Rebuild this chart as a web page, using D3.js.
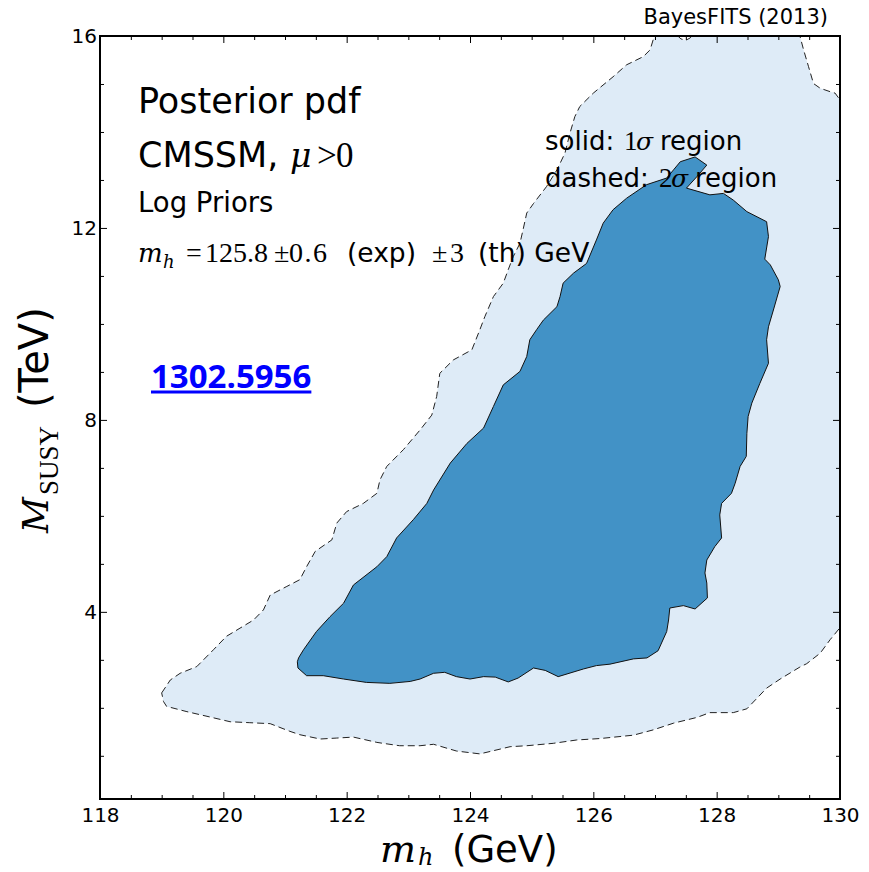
<!DOCTYPE html>
<html>
<head>
<meta charset="utf-8">
<script src="https://cdn.jsdelivr.net/npm/d3@7"></script>
<style>
  body { margin: 0; background: #fff; }
  svg { display: block; }
</style>
</head>
<body>
<svg id="chart" width="869" height="872"></svg>
<script>
// Axis ranges and ticks
const mhDomain = [118, 130];
const msusyDomain = [0.1, 16];
const mhMajorTicks = [118, 120, 122, 124, 126, 128, 130];
const mhMinorTicks = [118.5, 119, 119.5, 120.5, 121, 121.5, 122.5, 123, 123.5, 124.5, 125, 125.5, 126.5, 127, 127.5, 128.5, 129, 129.5];
const msusyMajorTicks = [4, 8, 12, 16];
const msusyMinorTicks = [1, 2, 3, 5, 6, 7, 9, 10, 11, 13, 14, 15];

// 2 sigma credible region boundary: [m_h (GeV), M_SUSY (TeV)]
const region2sigma = [
  [119.00, 2.31], [119.14, 2.58], [119.30, 2.72], [119.57, 2.86], [119.84, 3.21], [120.05, 3.49],
  [120.27, 3.66], [120.49, 3.83], [120.65, 4.04], [120.76, 4.35], [121.03, 4.53], [121.24, 4.67],
  [121.35, 4.94], [121.49, 5.26], [121.76, 5.50], [121.84, 5.85], [122.00, 6.09], [122.27, 6.26],
  [122.49, 6.47], [122.54, 6.75], [122.65, 7.03], [122.92, 7.38], [123.19, 7.79], [123.38, 8.10],
  [123.46, 8.49], [123.51, 8.97], [123.73, 9.25], [124.03, 9.46], [124.16, 9.88], [124.24, 10.15],
  [124.38, 10.57], [124.54, 10.85], [124.62, 11.13], [124.70, 11.40], [124.81, 11.68], [124.86, 11.96],
  [124.92, 12.31], [125.03, 12.51], [125.24, 12.86], [125.41, 13.21], [125.54, 13.56], [125.62, 13.97],
  [125.70, 14.32], [125.78, 14.53], [126.00, 14.81], [126.32, 15.15], [126.54, 15.40], [126.81, 15.57],
  [126.92, 15.71], [126.97, 15.92], [127.00, 16.00],
  [127.37, 16.00], [127.42, 15.94], [127.50, 15.91], [127.57, 15.96], [127.60, 16.00],
  [129.35, 16.00], [129.41, 15.71], [129.49, 15.36], [129.57, 15.01], [129.68, 14.91], [129.84, 14.84],
  [129.92, 14.81], [130.00, 14.67],
  [130.00, 3.67], [129.84, 3.42], [129.68, 3.14], [129.46, 2.92], [129.35, 2.85], [129.03, 2.60],
  [128.81, 2.41], [128.49, 1.98], [128.27, 1.90], [127.89, 1.90], [127.68, 1.80], [127.30, 1.68],
  [126.97, 1.54], [126.65, 1.43], [126.11, 1.36], [125.73, 1.33], [125.35, 1.26], [124.92, 1.21],
  [124.65, 1.19], [124.49, 1.14], [124.16, 1.04], [123.78, 1.10], [123.41, 1.24], [123.19, 1.21],
  [122.86, 1.21], [122.59, 1.26], [122.49, 1.28], [122.11, 1.39], [121.84, 1.37], [121.57, 1.35],
  [121.24, 1.44], [121.08, 1.51], [120.76, 1.67], [120.43, 1.69], [120.11, 1.71], [119.78, 1.81],
  [119.41, 1.92], [119.08, 2.03], [119.03, 2.13]
];

// 1 sigma credible region boundary: [m_h (GeV), M_SUSY (TeV)]
const region1sigma = [
  [127.65, 13.48], [127.84, 13.31], [127.68, 13.07], [127.51, 12.83], [127.89, 12.69], [128.11, 12.72],
  [128.27, 12.58], [128.49, 12.34], [128.81, 12.13], [128.84, 11.82], [128.78, 11.35], [128.87, 11.23],
  [129.00, 10.92], [129.03, 10.78], [128.92, 10.29], [128.84, 9.94], [128.81, 9.67], [128.84, 9.18],
  [128.70, 8.76], [128.57, 8.35], [128.51, 8.07], [128.49, 7.72], [128.48, 7.24], [128.38, 7.03],
  [128.30, 6.68], [128.24, 6.47], [128.08, 6.26], [128.05, 6.02], [128.08, 5.54], [127.97, 5.36],
  [127.84, 5.08], [127.81, 4.81], [127.84, 4.60], [127.85, 4.29], [127.65, 4.06], [127.46, 4.13],
  [127.24, 4.08], [127.22, 3.83], [127.19, 3.59], [127.05, 3.19], [126.87, 3.04], [126.65, 3.02],
  [126.27, 2.91], [126.05, 2.88], [125.84, 2.81], [125.43, 2.65], [125.22, 2.78], [125.03, 2.83],
  [124.78, 2.62], [124.62, 2.54], [124.41, 2.64], [124.22, 2.65], [124.00, 2.60], [123.78, 2.65],
  [123.59, 2.74], [123.41, 2.72], [123.19, 2.60], [123.03, 2.55], [122.70, 2.51], [122.32, 2.53],
  [121.95, 2.60], [121.62, 2.67], [121.35, 2.67], [121.21, 2.83], [121.20, 2.96], [121.22, 3.04],
  [121.30, 3.21], [121.51, 3.59], [121.73, 3.90], [121.95, 4.18], [122.11, 4.56], [122.49, 4.94],
  [122.65, 5.15], [122.81, 5.54], [123.08, 5.92], [123.30, 6.26], [123.41, 6.54], [123.68, 7.10],
  [123.95, 7.51], [124.22, 7.83], [124.38, 8.28], [124.54, 8.73], [124.81, 9.01], [124.92, 9.32],
  [124.97, 9.67], [125.08, 9.88], [125.19, 10.08], [125.41, 10.36], [125.46, 10.57], [125.51, 10.85],
  [125.68, 11.06], [125.89, 11.26], [126.05, 11.75], [126.16, 12.10], [126.32, 12.38], [126.54, 12.62],
  [126.86, 12.90], [127.19, 13.04], [127.30, 13.21], [127.41, 13.38]
];

const svg = d3.select("#chart");
const plot = { left: 100, top: 36, right: 840, bottom: 799 };

const x = d3.scaleLinear().domain(mhDomain).range([plot.left, plot.right]);
const y = d3.scaleLinear().domain(msusyDomain).range([plot.bottom, plot.top]);

const SANS = "'DejaVu Sans', 'Bitstream Vera Sans', sans-serif";
const SERIF_NUM = "'Liberation Serif', 'DejaVu Serif', serif";
const SERIF_IT = "'DejaVu Serif', 'Liberation Serif', serif";

svg.append("defs").append("clipPath").attr("id", "plot-clip")
  .append("rect")
  .attr("x", plot.left).attr("y", plot.top)
  .attr("width", plot.right - plot.left).attr("height", plot.bottom - plot.top);

const line = d3.line().x(d => x(d[0])).y(d => y(d[1])).curve(d3.curveLinearClosed);

const regions = svg.append("g").attr("clip-path", "url(#plot-clip)");

regions.append("path")
  .attr("d", line(region2sigma))
  .attr("fill", "#deebf7")
  .attr("stroke", "none");

regions.append("path")
  .attr("d", line(region1sigma))
  .attr("fill", "#4292c6")
  .attr("stroke", "#111")
  .attr("stroke-width", 1)
  .attr("stroke-linejoin", "round");

regions.append("path")
  .attr("d", line(region2sigma))
  .attr("fill", "none")
  .attr("stroke", "#222")
  .attr("stroke-width", 1)
  .attr("stroke-dasharray", "7,4");

// Axes with inward ticks on all four sides
function styleAxis(g) {
  g.select(".domain").remove();
  g.selectAll(".tick line").attr("stroke", "#000").attr("stroke-width", 1);
  g.selectAll(".tick text").attr("font-family", SANS).attr("font-size", 20).attr("fill", "#000");
}

svg.append("g").attr("transform", `translate(0,${plot.bottom})`)
  .call(d3.axisBottom(x).tickValues(mhMajorTicks).tickFormat(d3.format("d")).tickSizeInner(-7).tickSizeOuter(0).tickPadding(9))
  .call(styleAxis);
svg.append("g").attr("transform", `translate(0,${plot.bottom})`)
  .call(d3.axisBottom(x).tickValues(mhMinorTicks).tickFormat("").tickSizeInner(-4).tickSizeOuter(0))
  .call(styleAxis);
svg.append("g").attr("transform", `translate(0,${plot.top})`)
  .call(d3.axisTop(x).tickValues(mhMajorTicks).tickFormat("").tickSizeInner(-7).tickSizeOuter(0))
  .call(styleAxis);
svg.append("g").attr("transform", `translate(0,${plot.top})`)
  .call(d3.axisTop(x).tickValues(mhMinorTicks).tickFormat("").tickSizeInner(-4).tickSizeOuter(0))
  .call(styleAxis);

svg.append("g").attr("transform", `translate(${plot.left},0)`)
  .call(d3.axisLeft(y).tickValues(msusyMajorTicks).tickFormat(d3.format("d")).tickSizeInner(-7).tickSizeOuter(0).tickPadding(3))
  .call(styleAxis);
svg.append("g").attr("transform", `translate(${plot.left},0)`)
  .call(d3.axisLeft(y).tickValues(msusyMinorTicks).tickFormat("").tickSizeInner(-4).tickSizeOuter(0))
  .call(styleAxis);
svg.append("g").attr("transform", `translate(${plot.right},0)`)
  .call(d3.axisRight(y).tickValues(msusyMajorTicks).tickFormat("").tickSizeInner(-7).tickSizeOuter(0))
  .call(styleAxis);
svg.append("g").attr("transform", `translate(${plot.right},0)`)
  .call(d3.axisRight(y).tickValues(msusyMinorTicks).tickFormat("").tickSizeInner(-4).tickSizeOuter(0))
  .call(styleAxis);

// Frame
svg.append("rect")
  .attr("x", plot.left).attr("y", plot.top)
  .attr("width", plot.right - plot.left).attr("height", plot.bottom - plot.top)
  .attr("fill", "none").attr("stroke", "#000").attr("stroke-width", 2);

// Helper for text runs placed at explicit positions
function run(parent, str, px, py, family, size, opts = {}) {
  const t = parent.append("text")
    .attr("x", px).attr("y", py)
    .attr("font-family", family)
    .attr("font-size", size)
    .attr("font-style", opts.italic ? "italic" : "normal")
    .attr("font-weight", opts.bold ? "bold" : "normal")
    .attr("fill", opts.fill || "#000")
    .attr("text-anchor", opts.anchor || "start")
    .text(str);
  if (opts.spacing) t.attr("letter-spacing", opts.spacing);
  return t;
}

const notes = svg.append("g");

run(notes, "BayesFITS (2013)", 828, 24, SANS, 21, { anchor: "end" });

run(notes, "Posterior pdf", 138, 113, SANS, 35);
run(notes, "CMSSM,", 138, 167, SANS, 35);
run(notes, "μ", 290, 167, SERIF_IT, 33, { italic: true });
run(notes, ">", 317, 167, SERIF_NUM, 35);
run(notes, "0", 336, 167, SERIF_NUM, 35);

run(notes, "Log Priors", 138, 212, SANS, 27.5);

// m_h = 125.8 ± 0.6 (exp) ± 3 (th) GeV
run(notes, "m", 138, 262, SERIF_IT, 26, { italic: true });
run(notes, "h", 163, 268, SERIF_IT, 18, { italic: true });
run(notes, "=", 186, 262, SERIF_NUM, 28);
run(notes, "125.8", 205, 262, SERIF_NUM, 28);
run(notes, "±", 274, 262, SERIF_NUM, 28);
run(notes, "0.6", 289, 262, SERIF_NUM, 28, { spacing: 1.5 });
run(notes, "(exp)", 347, 262, SANS, 26.5);
run(notes, "±", 432, 262, SERIF_NUM, 28);
run(notes, "3", 450, 262, SERIF_NUM, 28);
run(notes, "(th) GeV", 478, 262, SANS, 26.5);

// contour legend
run(notes, "solid:", 545, 150, SANS, 26);
run(notes, "1", 624, 150, SERIF_NUM, 27);
run(notes, "σ", 636, 150, SERIF_IT, 25, { italic: true });
run(notes, "region", 660, 150, SANS, 26);
run(notes, "dashed:", 545, 187, SANS, 26);
run(notes, "2", 659, 187, SERIF_NUM, 27);
run(notes, "σ", 671, 187, SERIF_IT, 25, { italic: true });
run(notes, "region", 695, 187, SANS, 26);

// arXiv reference
const ref = run(notes, "1302.5956", 151, 388, "'Open Sans', 'Liberation Sans', sans-serif", 33, { bold: true, fill: "#0000ff" });
const refLen = ref.node().getComputedTextLength();
notes.append("rect")
  .attr("x", 151).attr("y", 390.5)
  .attr("width", refLen).attr("height", 3)
  .attr("fill", "#0000ff");

// x axis title
run(svg, "m", 380, 862, SERIF_IT, 38, { italic: true });
run(svg, "h", 418, 865, SERIF_IT, 24, { italic: true });
run(svg, "(GeV)", 452, 862, SANS, 37);

// y axis title (rotated)
const yTitle = svg.append("g").attr("transform", "translate(48,533) rotate(-90)");
run(yTitle, "M", 0, 0, SERIF_IT, 35, { italic: true });
run(yTitle, "SUSY", 38, 10, SERIF_NUM, 27);
run(yTitle, "(TeV)", 125, 0, SANS, 40);
</script>
</body>
</html>
